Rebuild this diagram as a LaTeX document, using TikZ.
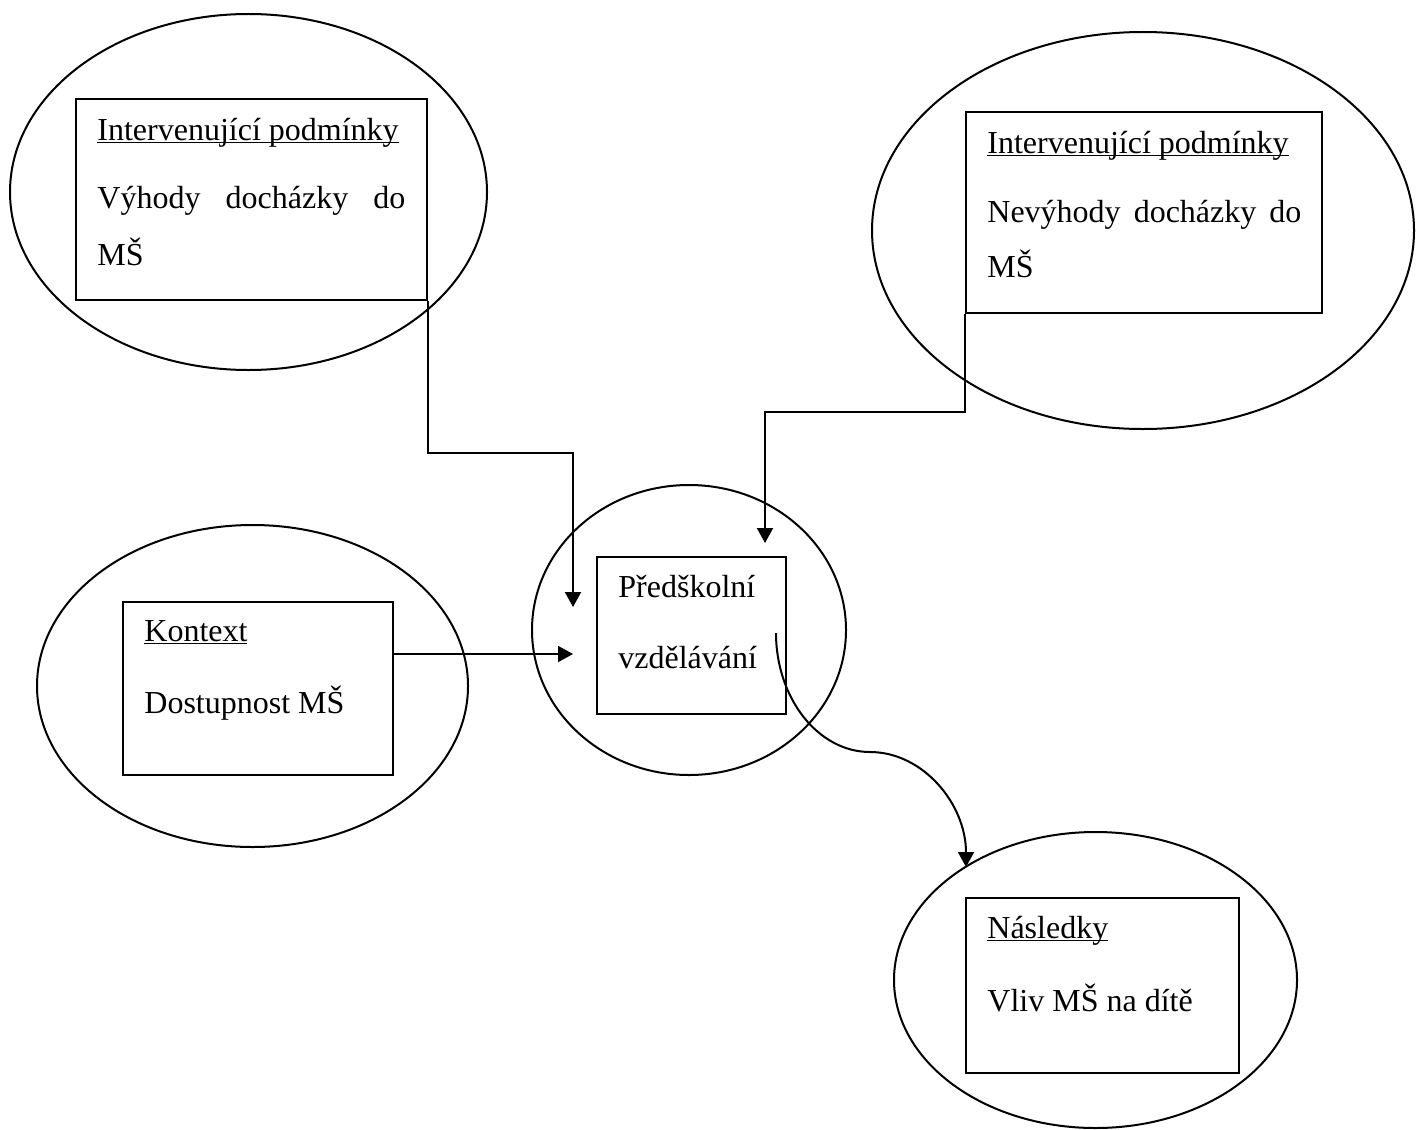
\documentclass[tikz,border=0pt]{standalone}
\usepackage{fontspec}
\setmainfont{Liberation Serif}
\usetikzlibrary{shapes.geometric,arrows.meta}
\newcommand{\ttl}[1]{\underline{\smash{#1}}}
\tikzset{
  oval/.style={draw, ellipse, line width=1pt, inner sep=0pt},
  frame/.style={draw, rectangle, line width=1pt, inner sep=0pt},
  lbl/.style={anchor=base west, inner sep=0pt, font=\fontsize{16}{19}\selectfont},
  conn/.style={line width=1pt},
  arr/.style={line width=1pt, -{Triangle[length=7.5pt,width=8pt]}}
}
\begin{document}
\begin{tikzpicture}[x=0.5pt,y=-0.5pt]
\useasboundingbox (0,0) rectangle (1416,1129);
% ellipses
\node (e1) [oval, minimum width=238.5pt, minimum height=178pt] at (248.5,192) {};
\node (e2) [oval, minimum width=271pt, minimum height=198.5pt] at (1143,230.5) {};
\node (e3) [oval, minimum width=157pt, minimum height=145pt] at (689,630) {};
\node (e4) [oval, minimum width=215.5pt, minimum height=161pt] at (252.5,686) {};
\node (e5) [oval, minimum width=201.5pt, minimum height=148pt] at (1095.5,980) {};
% boxes
\node (b1) [frame, minimum width=175.5pt, minimum height=100.5pt] at (251.5,199.5) {};
\node (b2) [frame, minimum width=178pt, minimum height=100.5pt] at (1144,212.5) {};
\node (b3) [frame, minimum width=94.5pt, minimum height=78.5pt] at (691.5,635.5) {};
\node (b4) [frame, minimum width=135pt, minimum height=86.5pt] at (258,688.5) {};
\node (b5) [frame, minimum width=136.5pt, minimum height=87.5pt] at (1102.5,985.5) {};
% texts
\node (t1a) [lbl] at (97,140) {\ttl{Intervenující podmínky}};
\node (t1b) [lbl] at (97,208) {\makebox[154pt][s]{Výhody docházky do}};
\node (t1c) [lbl] at (97,265) {MŠ};
\node (t2a) [lbl] at (987,153) {\ttl{Intervenující podmínky}};
\node (t2b) [lbl] at (987,222) {\makebox[157pt][s]{Nevýhody docházky do}};
\node (t2c) [lbl] at (987,277) {MŠ};
\node (t3a) [lbl] at (618,597) {Předškolní};
\node (t3b) [lbl] at (618,668) {vzdělávání};
\node (t4a) [lbl] at (144,641) {\ttl{Kontext}};
\node (t4b) [lbl] at (144,713) {Dostupnost MŠ};
\node (t5a) [lbl] at (987,938) {\ttl{Následky}};
\node (t5b) [lbl] at (987,1011) {Vliv MŠ na dítě};
% connector points
\coordinate (k1) at (573,453);
\coordinate (a1) at (573,607);
\coordinate (k2) at (765,412);
\coordinate (a2) at (765,543);
\coordinate (s4) at (393,654);
\coordinate (a4) at (573,654);
\coordinate (s3) at (776,633);
\coordinate (m3) at (870,752);
\coordinate (a5) at (966,867);
% connectors
\draw[arr] (b1.south east) -- (b1.south east |- k1) -- (k1) -- (a1);
\draw[arr] (b2.south west) -- (b2.south west |- k2) -- (k2) -- (a2);
\draw[arr] (s4) -- (a4);
\draw[arr] (s3) .. controls (776,698) and (818,752) .. (m3)
              .. controls (923,752) and (966,804) .. (a5);
\end{tikzpicture}
\end{document}
